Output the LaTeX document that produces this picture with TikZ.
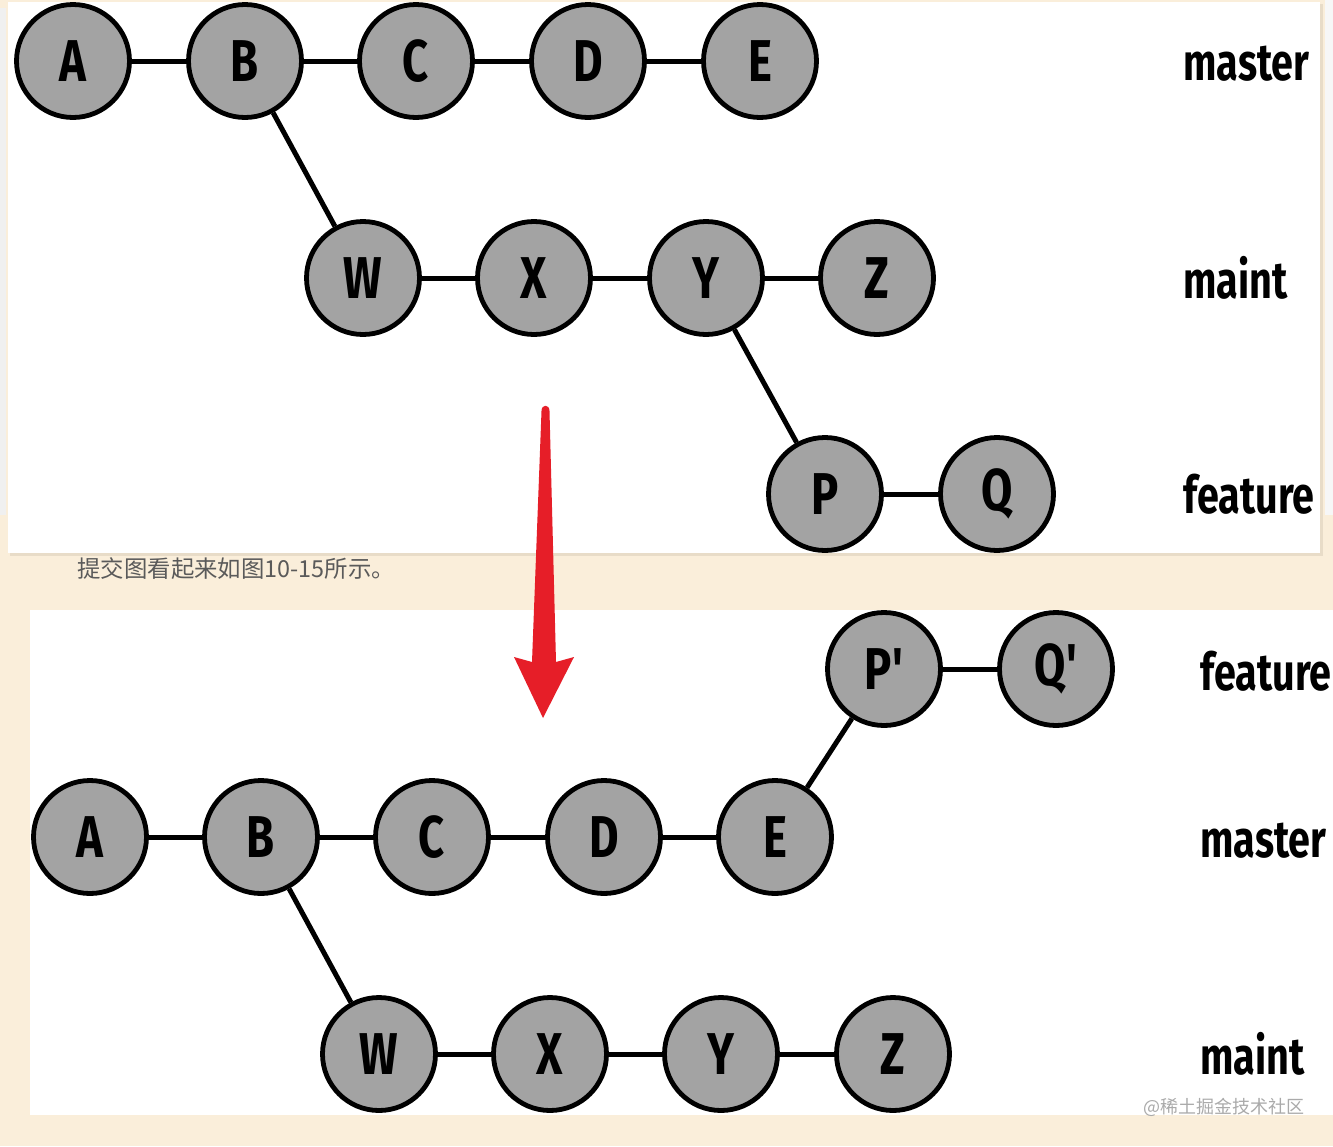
\documentclass[tikz,border=0pt]{standalone}
\usepackage{fontspec}
\setmainfont{Fira Sans}
\newfontfamily\cjk{Noto Sans CJK SC}
\definecolor{pagebg}{RGB}{250,238,218}
\definecolor{shadowc}{RGB}{232,220,200}
\definecolor{cgray}{RGB}{163,163,163}
\definecolor{arrowred}{RGB}{230,30,40}
\definecolor{textgray}{RGB}{90,90,90}
\definecolor{wmgray}{RGB}{170,170,170}
\newcommand\condtxt[1]{\scalebox{0.77}[1]{#1}}
\newcommand\condlbl[1]{\scalebox{0.76}[1]{#1}}
\begin{document}
\begin{tikzpicture}[x=0.5pt,y=-0.5pt,
  commit/.style={circle, draw=black, line width=2.4pt, fill=cgray, minimum size=56.5pt, inner sep=0pt,
    font=\bfseries\fontsize{29.5}{29.5}\selectfont},
  link/.style={line width=2.5pt, draw=black},
  branchlbl/.style={anchor=base west, inner sep=0pt, font=\bfseries\fontsize{26}{26}\selectfont}]
\useasboundingbox (0,0) rectangle (1333,1146);
% page background
\fill[pagebg] (0,0) rectangle (1333,1146);
\fill[black!6] (0,8) rectangle (6,515);
\fill[black!3] (1325,0) rectangle (1333,515);
% top panel
\fill[shadowc] (10,4) rectangle (1323,556);
\fill[white] (8,2) rectangle (1320,553);
% bottom panel
\fill[white] (30,610) rectangle (1333,1115);

% ---------- top diagram ----------
\node[commit] (A) at (73,61) {\condtxt{A}};
\node[commit] (B) at (245,61) {\condtxt{B}};
\node[commit] (C) at (416,61) {\condtxt{C}};
\node[commit] (D) at (588,61) {\condtxt{D}};
\node[commit] (E) at (760,61) {\condtxt{E}};
\node[commit] (W) at (363,278) {\condtxt{W}};
\node[commit] (X) at (534,278) {\condtxt{X}};
\node[commit] (Y) at (706,278) {\condtxt{Y}};
\node[commit] (Z) at (877,278) {\condtxt{Z}};
\node[commit] (P) at (825,494) {\condtxt{P}};
\node[commit] (Q) at (997,494) {\condtxt{Q}};
\draw[link] (A) -- (B);
\draw[link] (B) -- (C);
\draw[link] (C) -- (D);
\draw[link] (D) -- (E);
\draw[link] (B) -- (W);
\draw[link] (W) -- (X);
\draw[link] (X) -- (Y);
\draw[link] (Y) -- (Z);
\draw[link] (Y) -- (P);
\draw[link] (P) -- (Q);
\node[branchlbl] (lmaster) at (1183,80) {\condlbl{master}};
\node[branchlbl] (lmaint) at (1183,298) {\condlbl{maint}};
\node[branchlbl] (lfeature) at (1183,513) {\condlbl{feature}};

% caption text
\node[anchor=base west, inner sep=0pt, text=textgray, font=\cjk\fontsize{11.7}{11.7}\selectfont] (cap) at (77,577) {提交图看起来如图10-15所示。};

% ---------- bottom diagram ----------
\node[commit] (P2) at (884,669) {\condtxt{P\textquotesingle}};
\node[commit] (Q2) at (1056,669) {\condtxt{Q\textquotesingle}};
\node[commit] (A2) at (90,837) {\condtxt{A}};
\node[commit] (B2) at (261,837) {\condtxt{B}};
\node[commit] (C2) at (432,837) {\condtxt{C}};
\node[commit] (D2) at (604,837) {\condtxt{D}};
\node[commit] (E2) at (775,837) {\condtxt{E}};
\node[commit] (W2) at (379,1054) {\condtxt{W}};
\node[commit] (X2) at (550,1054) {\condtxt{X}};
\node[commit] (Y2) at (721,1054) {\condtxt{Y}};
\node[commit] (Z2) at (893,1054) {\condtxt{Z}};
\draw[link] (P2) -- (Q2);
\draw[link] (A2) -- (B2);
\draw[link] (B2) -- (C2);
\draw[link] (C2) -- (D2);
\draw[link] (D2) -- (E2);
\draw[link] (E2) -- (P2);
\draw[link] (B2) -- (W2);
\draw[link] (W2) -- (X2);
\draw[link] (X2) -- (Y2);
\draw[link] (Y2) -- (Z2);
\node[branchlbl] (lfeature2) at (1200,690) {\condlbl{feature}};
\node[branchlbl] (lmaster2) at (1200,857) {\condlbl{master}};
\node[branchlbl] (lmaint2) at (1200,1074) {\condlbl{maint}};

% red arrow
\fill[arrowred] (541.5,411) -- (532,662) -- (514,657) -- (543,718) -- (574,657) -- (556,662) -- (549.5,411)
  .. controls (549.5,404) and (541.5,404) .. cycle;

% watermark
\node[anchor=base west, inner sep=0pt, text=wmgray, font=\cjk\fontsize{9}{9}\selectfont] (wm) at (1143,1113) {@稀土掘金技术社区};
\end{tikzpicture}
\end{document}
